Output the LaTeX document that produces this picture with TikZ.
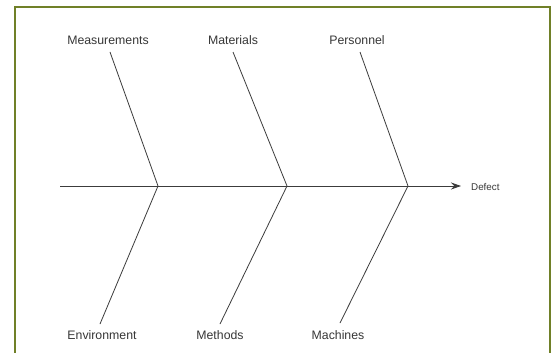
\documentclass[tikz,border=0pt]{standalone}
\usepackage{fontspec}
\setmainfont{Liberation Sans}
\usetikzlibrary{arrows.meta}
\definecolor{frame}{RGB}{112,128,40}
\definecolor{ink}{RGB}{60,60,60}
\definecolor{txt}{RGB}{55,55,55}
\begin{document}
\begin{tikzpicture}[x=1pt,y=-1pt,
  bone/.style={draw=ink,line width=0.8pt},
  cause/.style={inner sep=0pt,text=txt,font=\fontsize{12.3}{14}\selectfont},
  effect/.style={inner sep=0pt,text=txt,anchor=west,font=\fontsize{9.8}{12}\selectfont}]
\useasboundingbox (0,0) rectangle (552,353);
\fill[white] (0,0) rectangle (552,353);
\draw[frame,line width=2.2pt] (15,360) -- (15,7) -- (550,7) -- (550,360);
% causes
\node[cause] (meas) at (108,40) {Measurements};
\node[cause] (mat) at (233,40) {Materials};
\node[cause] (pers) at (357,40) {Personnel};
\node[cause] (env) at (102,335) {Environment};
\node[cause] (meth) at (220,335) {Methods};
\node[cause] (mach) at (338,335) {Machines};
\node[effect] (def) at (471,187) {Defect};
% spine
\coordinate (s0) at (60,186);
\coordinate (j1) at (158,186);
\coordinate (j2) at (287,186);
\coordinate (j3) at (408,186);
\coordinate (t1) at (110,52);
\coordinate (t2) at (233,52);
\coordinate (t3) at (360,52);
\coordinate (b1) at (100,324);
\coordinate (b2) at (220,324);
\coordinate (b3) at (340,323);
\coordinate (tip) at (461,186);
\draw[bone,-{Stealth[length=10pt,width=7pt]}] (s0) -- (tip);
\draw[bone] (t1) -- (j1) -- (b1);
\draw[bone] (t2) -- (j2) -- (b2);
\draw[bone] (t3) -- (j3) -- (b3);
\end{tikzpicture}
\end{document}
